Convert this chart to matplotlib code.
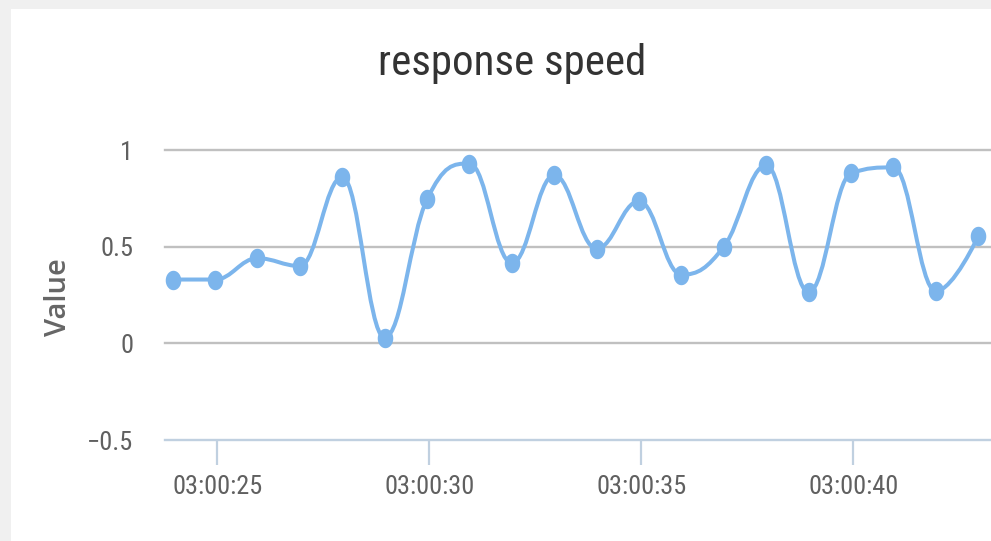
import numpy as np
import matplotlib
matplotlib.use("Agg")
import matplotlib.pyplot as plt
from matplotlib.path import Path
from matplotlib.patches import PathPatch, Rectangle

# data: seconds after 03:00:00 and response speed values
seconds = [23.95, 24.95, 25.95, 26.95, 27.95, 28.95, 29.95, 30.95, 31.95, 32.95,
           33.95, 34.95, 35.95, 36.95, 37.95, 38.95, 39.95, 40.95, 41.95, 42.95]
values = [0.33, 0.33, 0.44, 0.40, 0.86, 0.03, 0.745, 0.93, 0.415, 0.87,
          0.49, 0.735, 0.355, 0.50, 0.92, 0.265, 0.88, 0.91, 0.27, 0.555]

xtick_seconds = [25, 30, 35, 40]
xtick_labels = ["03:00:25", "03:00:30", "03:00:35", "03:00:40"]
ytick_values = [-0.5, 0, 0.5, 1]
ytick_labels = ["\u22120.5", "0", "0.5", "1"]

NARROW = ["Roboto Condensed", "DejaVu Sans"]
LINE_COLOR = "#7cb5ec"


def spline_path(xs, ys, smoothing=1.5):
    # highcharts-like spline: bezier control points around every point
    n = len(xs)
    left = [(xs[i], ys[i]) for i in range(n)]
    right = [(xs[i], ys[i]) for i in range(n)]
    denom = smoothing + 1
    for i in range(1, n - 1):
        x, y = xs[i], ys[i]
        lx, ly = xs[i - 1], ys[i - 1]
        nx_, ny = xs[i + 1], ys[i + 1]
        lcx = (smoothing * x + lx) / denom
        lcy = (smoothing * y + ly) / denom
        rcx = (smoothing * x + nx_) / denom
        rcy = (smoothing * y + ny) / denom
        corr = (rcy - lcy) * (rcx - x) / (rcx - lcx) + y - rcy
        lcy += corr
        rcy += corr
        if lcy > ly and lcy > y:
            lcy = max(ly, y)
            rcy = 2 * y - lcy
        elif lcy < ly and lcy < y:
            lcy = min(ly, y)
            rcy = 2 * y - lcy
        if rcy > ny and rcy > y:
            rcy = max(ny, y)
            lcy = 2 * y - rcy
        elif rcy < ny and rcy < y:
            rcy = min(ny, y)
            lcy = 2 * y - rcy
        left[i] = (lcx, lcy)
        right[i] = (rcx, rcy)
    verts = [(xs[0], ys[0])]
    codes = [Path.MOVETO]
    for i in range(1, n):
        verts += [right[i - 1], left[i], (xs[i], ys[i])]
        codes += [Path.CURVE4] * 3
    return Path(verts, codes)


fig = plt.figure(figsize=(9.91, 5.41), dpi=100)
fig.patch.set_facecolor("#f0f0f0")
fig.patches.append(Rectangle((11 / 991, 0), 1, 1 - 9 / 541, transform=fig.transFigure,
                             facecolor="white", edgecolor="none", zorder=-10))

ax = fig.add_axes([165 / 991, 101 / 541, 826 / 991, 290 / 541])
ax.set_facecolor("none")
ax.set_xlim(23.77, 43.25)
ax.set_ylim(-0.5, 1.0)

for v in [0, 0.5, 1]:
    ax.axhline(v, color="#c0c0c0", lw=1.7, zorder=1, clip_on=False)

ax.add_patch(PathPatch(spline_path(seconds, values), facecolor="none",
                       edgecolor=LINE_COLOR, lw=2.9, zorder=3, clip_on=False,
                       capstyle="round", joinstyle="round"))

# slightly narrow marker, like the squeezed screenshot
t = np.linspace(0, 2 * np.pi, 40)
ell = Path(np.column_stack([0.8 * np.cos(t), np.sin(t)]))
ax.plot(seconds, values, linestyle="none", marker=ell, markersize=14,
        color=LINE_COLOR, markeredgewidth=0, zorder=4, clip_on=False)

for s in ["top", "right", "left"]:
    ax.spines[s].set_visible(False)
ax.spines["bottom"].set_color("#c0d0e0")
ax.spines["bottom"].set_linewidth(1.7)

ax.set_xticks(xtick_seconds)
ax.set_xticklabels(xtick_labels)
ax.set_yticks(ytick_values)
ax.set_yticklabels(ytick_labels)
ax.tick_params(axis="x", length=18, width=1.6, color="#c0d0e0", pad=7,
               labelsize=19, labelcolor="#606060")
ax.tick_params(axis="y", length=0, pad=23, labelsize=19, labelcolor="#606060")
for lab in ax.get_xticklabels() + ax.get_yticklabels():
    lab.set_family(NARROW)

fig.text(59 / 991, 1 - 297 / 541, "Value", rotation=90, ha="center", va="center",
         fontsize=21, color="#666666", weight="semibold",
         family=["Open Sans", "DejaVu Sans"])
fig.text(512 / 991, 1 - 63 / 541, "response speed", ha="center", va="center",
         fontsize=31, color="#333333", family=NARROW)

fig.savefig("out.png", dpi=100, facecolor=fig.get_facecolor())
